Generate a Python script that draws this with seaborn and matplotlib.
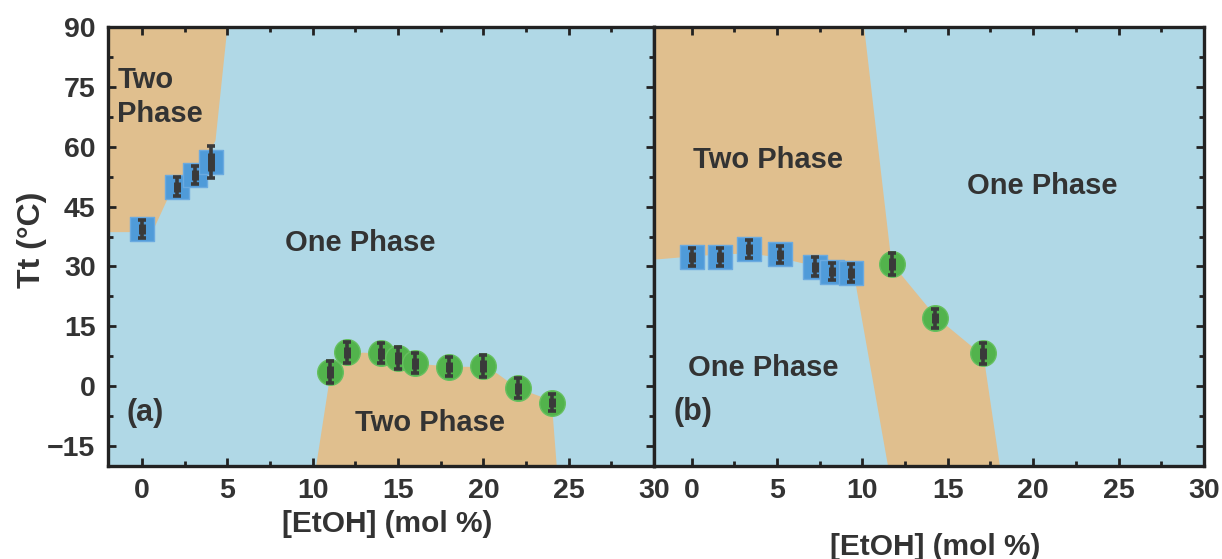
import numpy as np
import pandas as pd
import matplotlib
matplotlib.use("Agg")
import matplotlib.pyplot as plt
import seaborn as sns
from matplotlib.ticker import MultipleLocator

# ---------------- data ----------------
# Panel (a)
a_sq_x = [0.0, 2.05, 3.08, 4.05]
a_sq_y = [39.4, 50.0, 52.9, 56.2]
a_sq_err = [2.2, 2.3, 2.3, 4.1]
a_ci_x = [11.0, 12.0, 14.0, 15.0, 16.0, 18.0, 20.0, 22.0, 24.0]
a_ci_y = [3.6, 8.5, 8.2, 7.1, 5.7, 4.9, 5.0, -0.5, -4.1]
a_ci_err = [2.7, 2.6, 2.5, 2.8, 2.5, 2.3, 2.7, 2.5, 2.2]
# two-phase region boundaries (a)
a_top_x = [-2.0, 5.0, 4.3, 3.5, 1.5, 0.6, -2.0]
a_top_y = [90.0, 90.0, 61.5, 55.0, 47.0, 38.6, 38.6]
a_bot_x = [10.2, 10.95, 12.0, 12.9, 14.0, 15.0, 16.0, 18.0, 20.0, 20.8, 22.0, 24.0, 24.3]
a_bot_y = [-20.0, 0.7, 7.0, 8.4, 8.2, 7.1, 5.7, 4.9, 4.8, 3.2, -0.5, -3.6, -20.0]

# Panel (b)
b_sq_x = [0.04, 1.64, 3.34, 5.2, 7.2, 8.2, 9.34]
b_sq_y = [32.4, 32.4, 34.3, 33.0, 29.9, 28.7, 28.4]
b_sq_err = [2.2, 2.2, 2.3, 2.2, 2.4, 2.2, 2.3]
b_ci_x = [11.72, 14.27, 17.06]
b_ci_y = [30.6, 17.0, 8.2]
b_ci_err = [2.7, 2.3, 2.6]
# two-phase region boundary (b)
b_reg_x = [-2.2, 10.1, 11.65, 12.2, 14.3, 17.1, 18.05, 11.5, 9.55, 8.5, 7.0, 5.0, 3.5, 2.0, 0.0, -2.2]
b_reg_y = [90.0, 90.0, 33.0, 28.3, 17.4, 7.5, -20.0, -20.0, 27.0, 28.4, 30.3, 32.3, 33.2, 33.1, 32.5, 31.7]

x_ticks = [0, 5, 10, 15, 20, 25, 30]
y_ticks = [-15, 0, 15, 30, 45, 60, 75, 90]

# ---------------- style ----------------
sns.set_theme(style="ticks")
plt.rcParams['font.family'] = ['Liberation Sans', 'DejaVu Sans']
plt.rcParams['font.weight'] = 'bold'

BG = "#B0D8E6"
TAN = "#E0BF8E"
BLUE = "#4F9BD9"
GREEN = "#52B34C"
DARK = "#3A3A3A"
TXT = "#333333"
SPINE = "#222222"

fig = plt.figure(figsize=(12.22, 5.59), dpi=100)
W, H = 1222, 559
axA = fig.add_axes([108 / W, (559 - 466) / H, 546 / W, 439 / H])
axB = fig.add_axes([654 / W, (559 - 466) / H, 550 / W, 439 / H])


def markers(ax, x, y, err, marker, color, edge, size):
    df = pd.DataFrame({"x": x, "y": y})
    sns.scatterplot(data=df, x="x", y="y", marker=marker, s=size, color=color,
                    edgecolor=edge, linewidth=1.0, ax=ax, zorder=4, legend=False)
    ax.errorbar(x, y, yerr=err, fmt="none", ecolor=DARK, elinewidth=2.6,
                capsize=3.2, capthick=2.6, zorder=5)
    ax.errorbar(x, y, yerr=np.array(err) * 0.55, fmt="none", ecolor=DARK,
                elinewidth=5.0, capsize=0, zorder=5)


def style(ax, xlim, left_labels):
    ax.set_facecolor(BG)
    ax.set_xlim(*xlim)
    ax.set_ylim(-20, 90)
    ax.set_xticks(x_ticks)
    ax.set_yticks(y_ticks)
    ax.xaxis.set_minor_locator(MultipleLocator(2.5))
    ax.yaxis.set_minor_locator(MultipleLocator(7.5))
    for s in ax.spines.values():
        s.set_linewidth(2.4)
        s.set_color(SPINE)
        s.set_zorder(10)
    ax.tick_params(which="both", direction="in", top=True, right=True,
                   left=left_labels, color=SPINE, width=2.0)
    ax.tick_params(which="major", length=6, labelsize=20.5, labelcolor=TXT, pad=9)
    ax.tick_params(which="minor", length=3.5)
    ax.tick_params(axis="y", labelleft=left_labels)
    for lab in ax.get_xticklabels() + ax.get_yticklabels():
        lab.set_fontweight("bold")
    ax.set_axisbelow(False)


# Panel (a)
axA.fill(a_top_x, a_top_y, color=TAN, lw=0, zorder=1)
axA.fill(a_bot_x, a_bot_y, color=TAN, lw=0, zorder=1)
markers(axA, a_sq_x, a_sq_y, a_sq_err, "s", BLUE, "#6AAAE0", 290)
markers(axA, a_ci_x, a_ci_y, a_ci_err, "o", GREEN, "#66C060", 340)
style(axA, (-2, 30), True)
axA.set_xlabel("[EtOH] (mol %)", fontsize=21.5, fontweight="bold", color=TXT)
axA.xaxis.set_label_coords(0.511, -0.1)
axA.set_ylabel("Tt (°C)", fontsize=23, fontweight="bold", color=TXT)
axA.yaxis.set_label_coords(-0.112, 0.515)
axA.text(-1.45, 72.5, "Two\nPhase", fontsize=21, fontweight="bold", color=TXT,
         ha="left", va="center", linespacing=1.25, zorder=6)
axA.text(12.8, 36.0, "One Phase", fontsize=21, fontweight="bold", color=TXT,
         ha="center", va="center", zorder=6)
axA.text(16.9, -9.2, "Two Phase", fontsize=21, fontweight="bold", color=TXT,
         ha="center", va="center", zorder=6)
axA.text(0.2, -6.8, "(a)", fontsize=22, fontweight="bold", color=TXT,
         ha="center", va="center", zorder=6)

# Panel (b)
axB.fill(b_reg_x, b_reg_y, color=TAN, lw=0, zorder=1)
markers(axB, b_sq_x, b_sq_y, b_sq_err, "s", BLUE, "#6AAAE0", 290)
markers(axB, b_ci_x, b_ci_y, b_ci_err, "o", GREEN, "#66C060", 340)
style(axB, (-2.2, 30), False)
axB.set_ylabel("")
axB.set_xlabel("[EtOH] (mol %)", fontsize=21.5, fontweight="bold", color=TXT)
axB.xaxis.set_label_coords(0.511, -0.152)
axB.text(4.45, 56.7, "Two Phase", fontsize=21, fontweight="bold", color=TXT,
         ha="center", va="center", zorder=6)
axB.text(20.55, 50.2, "One Phase", fontsize=21, fontweight="bold", color=TXT,
         ha="center", va="center", zorder=6)
axB.text(4.2, 4.5, "One Phase", fontsize=21, fontweight="bold", color=TXT,
         ha="center", va="center", zorder=6)
axB.text(0.1, -6.5, "(b)", fontsize=22, fontweight="bold", color=TXT,
         ha="center", va="center", zorder=6)

fig.savefig("out.png", dpi=100, facecolor="white")
